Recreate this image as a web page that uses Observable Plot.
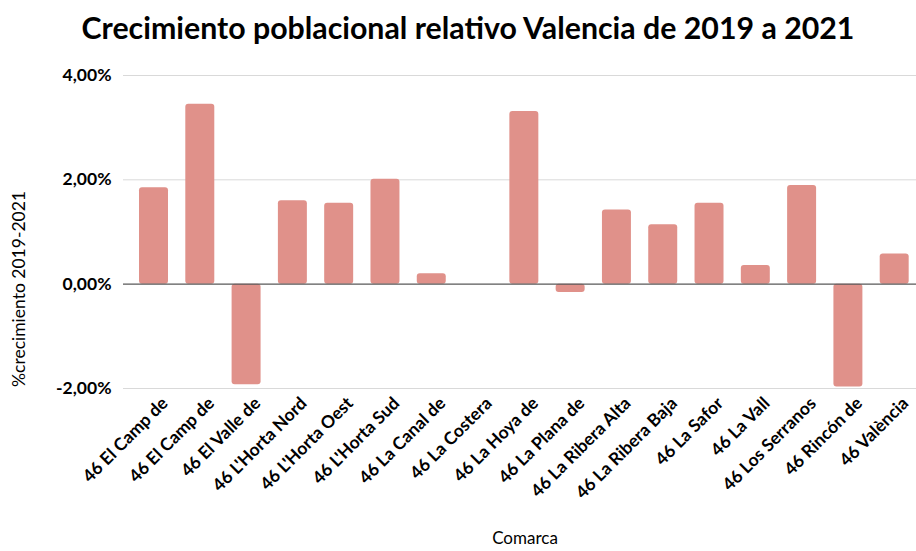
<!DOCTYPE html>
<html>
<head>
<meta charset="utf-8">
<script src="https://cdn.jsdelivr.net/npm/d3@7"></script>
<script src="https://cdn.jsdelivr.net/npm/@observablehq/plot@0.6"></script>
<style>
  body { margin: 0; background: #fff; font-family: Lato, "Open Sans", sans-serif; }
  #wrap { position: relative; width: 916px; height: 551px; overflow: hidden; }
  #title { position: absolute; top: 9px; left: 10px; width: 916px; text-align: center;
           font: bold 30.3px Lato, sans-serif; color: #000; }
  #chart { position: absolute; top: 0; left: 0; }
</style>
</head>
<body>
<div id="wrap">
  <div id="chart"></div>
  <div id="title">Crecimiento poblacional relativo Valencia de 2019 a 2021</div>
</div>
<script>
const categories = [
  "46 El Camp de", "46 El Camp de", "46 El Valle de", "46 L'Horta Nord",
  "46 L'Horta Oest", "46 L'Horta Sud", "46 La Canal de", "46 La Costera",
  "46 La Hoya de", "46 La Plana de", "46 La Ribera Alta", "46 La Ribera Baja",
  "46 La Safor", "46 La Vall", "46 Los Serranos", "46 Rincón de", "46 València"
];
const values = [
  0.0185, 0.0345, -0.0193, 0.0160, 0.0155, 0.0201, 0.0020, 0.0000,
  0.0331, -0.0016, 0.0142, 0.0114, 0.0155, 0.0036, 0.0189, -0.0197, 0.0058
];
const yTicks = [-0.02, 0, 0.02, 0.04];
const yTitle = "%crecimiento 2019-2021";
const xTitle = "Comarca";

const data = categories.map((c, i) => ({ idx: String(i), name: c, value: values[i] }));
const fmt = v => (v * 100).toFixed(2).replace(".", ",") + "%";

const plot = Plot.plot({
  width: 916,
  height: 551,
  marginTop: 75,
  marginBottom: 163,
  marginLeft: 123,
  marginRight: 0,
  style: { fontFamily: "Lato, sans-serif", fontSize: "17.5px", fontWeight: "bold", background: "transparent" },
  x: {
    domain: data.map(d => d.idx),
    range: [121.7, 926],
    padding: 0.374,
    round: false,
    axis: null
  },
  y: {
    domain: [-0.02, 0.04],
    axis: null
  },
  marks: [
    Plot.ruleY(yTicks.filter(t => t !== 0), { stroke: "#d9d9d9", strokeWidth: 1 }),
    Plot.barY(data, { x: "idx", y: "value", fill: "#e0918a", rx: 3 }),
    Plot.ruleY([0], { stroke: "#595959", strokeWidth: 1.3 }),
    Plot.axisY(yTicks, {
      tickFormat: fmt, tickSize: 0, tickPadding: 12,
      fill: "#000", label: null
    }),
    Plot.axisX({
      tickFormat: i => categories[+i], tickSize: 0, tickRotate: -45,
      tickPadding: 12, fill: "#000",
      label: null, dx: 11
    }),
    Plot.text([yTitle], {
      frameAnchor: "left", textAnchor: "middle", dx: -104, dy: 57, rotate: -90,
      fontSize: 17.5, fontWeight: "normal", fill: "#000", text: d => d
    }),
    Plot.text([xTitle], {
      frameAnchor: "bottom", dx: 5, dy: 155,
      fontSize: 17, fontWeight: "normal", fill: "#000", text: d => d
    })
  ]
});
document.getElementById("chart").appendChild(plot);
</script>
</body>
</html>
